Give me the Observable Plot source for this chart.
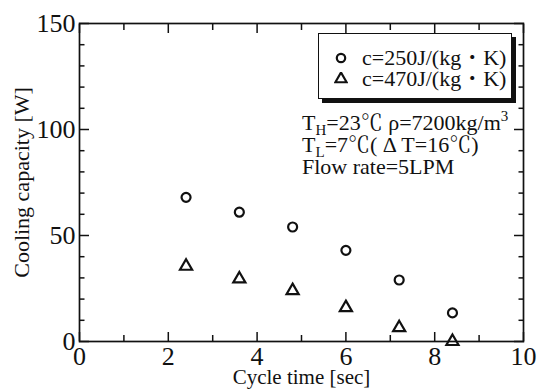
<!DOCTYPE html>
<html>
<head>
<meta charset="utf-8">
<script src="https://cdn.jsdelivr.net/npm/d3@7"></script>
<script src="https://cdn.jsdelivr.net/npm/@observablehq/plot@0.6"></script>
<style>
  body { margin: 0; background: #fff; }
  #wrap { position: relative; width: 541px; height: 389px; color: #111; }
  #wrap, #wrap * { font-family: Liberation Serif, Noto Serif CJK JP, serif !important; }
  #legend { position: absolute; left: 318px; top: 33px; width: 194px; height: 66px; border: 1.5px solid #111; background: #fff; box-shadow: 4px 4px 0 #111; box-sizing: border-box; }
  .lrow { position: absolute; left: 0; height: 22px; font-size: 22px; line-height: 22px; white-space: nowrap; }
  .lrow svg { position: absolute; left: 15px; top: 4px; }
  .lrow span { position: absolute; left: 43px; top: 0; }
  #note { position: absolute; left: 302px; top: 112px; font-size: 22px; line-height: 22px; white-space: nowrap; }
  #note sub { font-size: 15px; vertical-align: -5px; line-height: 0; }
  #note sup { font-size: 15px; vertical-align: 9px; line-height: 0; }
</style>
</head>
<body>
<div id="wrap"></div>
<script>
// ---- data ----
const cycleTime = [2.4, 3.6, 4.8, 6.0, 7.2, 8.4];
const cap250 = [68, 61, 54, 43, 29, 13.5];
const cap470 = [35.5, 29.5, 24, 16, 6.5, 0];
const seriesNames = ["c=250J/(kg・K)", "c=470J/(kg・K)"];
const xMajor = [0, 2, 4, 6, 8, 10];
const xMinor = [1, 3, 5, 7, 9];
const yMajor = [0, 50, 100, 150];
const yMinor = [10, 20, 30, 40, 60, 70, 80, 90, 110, 120, 130, 140];
const noteLines = [
  'T<sub>H</sub>=23℃ ρ=7200kg/m<sup>3</sup>',
  'T<sub>L</sub>=7℃( Δ T=16℃)',
  'Flow rate=5LPM'
];

const rows = [];
cycleTime.forEach((t, i) => {
  rows.push({t, v: cap250[i], s: seriesNames[0]});
  rows.push({t, v: cap470[i], s: seriesNames[1]});
});

const ink = "#111";
const serif = "Liberation Serif, Noto Serif CJK JP, serif";
const chart = Plot.plot({
  width: 541,
  height: 389,
  marginLeft: 79,
  marginRight: 18,
  marginTop: 23,
  marginBottom: 48,
  style: {fontFamily: serif, color: ink, background: "#fff"},
  x: {domain: [0, 10]},
  y: {domain: [0, 150]},
  symbol: {domain: seriesNames, range: ["circle", "triangle"]},
  marks: [
    // inward ticks, all four sides
    Plot.axisX({ticks: xMajor, anchor: "bottom", tickSize: -9, tickFormat: () => "", strokeWidth: 1.5, label: null}),
    Plot.axisX({ticks: xMinor, anchor: "bottom", tickSize: -6, tickFormat: () => "", strokeWidth: 1.5, label: null}),
    Plot.axisX({ticks: xMajor, anchor: "top", tickSize: -9, tickFormat: () => "", strokeWidth: 1.5, label: null}),
    Plot.axisX({ticks: xMinor, anchor: "top", tickSize: -6, tickFormat: () => "", strokeWidth: 1.5, label: null}),
    Plot.axisY({ticks: yMajor, anchor: "left", tickSize: -10, tickFormat: () => "", strokeWidth: 1.5, label: null}),
    Plot.axisY({ticks: yMinor, anchor: "left", tickSize: -5.5, tickFormat: () => "", strokeWidth: 1.5, label: null}),
    Plot.axisY({ticks: yMajor, anchor: "right", tickSize: -10, tickFormat: () => "", strokeWidth: 1.5, label: null}),
    Plot.axisY({ticks: yMinor, anchor: "right", tickSize: -5.5, tickFormat: () => "", strokeWidth: 1.5, label: null}),
    // tick labels
    Plot.axisX({ticks: xMajor, anchor: "bottom", tickSize: 0, tickPadding: 5, fontSize: 26, fontFamily: serif, label: null}),
    Plot.axisY({ticks: yMajor, anchor: "left", tickSize: 0, tickPadding: 4, fontSize: 26, fontFamily: serif, label: null}),
    // axis titles
    Plot.axisX({ticks: [], anchor: "bottom", label: "Cycle time [sec]", labelAnchor: "center", labelOffset: 42, labelArrow: false, fontSize: 21, fontFamily: serif}),
    Plot.axisY({ticks: [], anchor: "left", label: "Cooling capacity [W]", labelAnchor: "center", labelOffset: 66, labelArrow: false, fontSize: 22, fontFamily: serif}),
    Plot.frame({stroke: ink, strokeWidth: 1.7}),
    Plot.dot(rows, {x: "t", y: "v", symbol: "s", r: 4.5, stroke: ink, strokeWidth: 2.2, fill: "none"})
  ]
});
const wrap = document.getElementById("wrap");
wrap.appendChild(chart);

// legend
const legend = document.createElement("div");
legend.id = "legend";
const sym = d3.scaleOrdinal(seriesNames, [d3.symbolCircle, d3.symbolTriangle]);
seriesNames.forEach((name, i) => {
  const row = document.createElement("div");
  row.className = "lrow";
  row.style.top = (13 + i * 21) + "px";
  const path = d3.symbol(sym(name), Math.PI * 4.2 * 4.2)();
  row.innerHTML = `<svg width="14" height="14" viewBox="-7 -7 14 14"><path d="${path}" fill="none" stroke="${ink}" stroke-width="2.2"/></svg><span>${name}</span>`;
  legend.appendChild(row);
});
wrap.appendChild(legend);

// annotation
const note = document.createElement("div");
note.id = "note";
note.innerHTML = noteLines.join("<br>");
wrap.appendChild(note);
</script>
</body>
</html>
